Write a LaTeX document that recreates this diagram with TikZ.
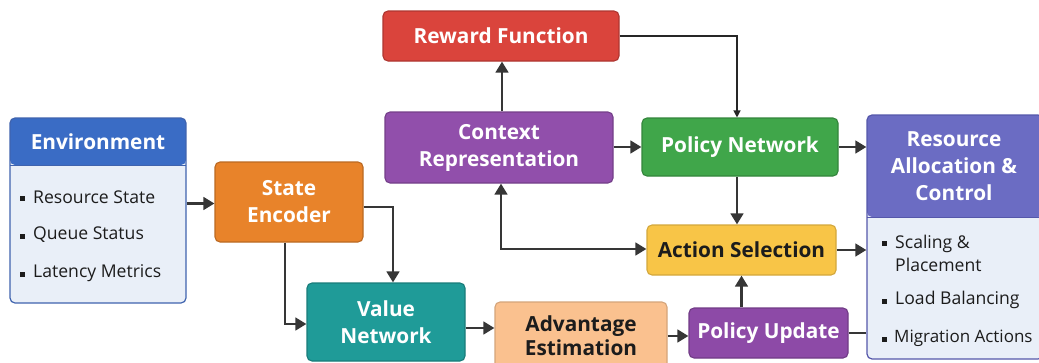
\documentclass[tikz,border=0pt]{standalone}
\usepackage{fontspec}
\setmainfont{Open Sans}
\usetikzlibrary{arrows.meta}

\definecolor{envHead}{HTML}{3A6CC5}
\definecolor{envEdge}{HTML}{3F63AE}
\definecolor{panelFill}{HTML}{E9EFF8}
\definecolor{encOrange}{HTML}{E8832A}
\definecolor{valTeal}{HTML}{1F9B98}
\definecolor{advPeach}{HTML}{FAC18F}
\definecolor{updPurple}{HTML}{8D4AA7}
\definecolor{actYellow}{HTML}{F8C547}
\definecolor{polGreen}{HTML}{40A64A}
\definecolor{ctxPurple}{HTML}{914FAB}
\definecolor{rewRed}{HTML}{DA443C}
\definecolor{resHead}{HTML}{6B6CC3}
\definecolor{resEdge}{HTML}{5557AA}
\definecolor{wire}{HTML}{363636}
\definecolor{ink}{HTML}{1C1C1C}

\newcommand{\titlesize}{\fontsize{20.8}{27}\selectfont\bfseries}
\newcommand{\itemsize}{\fontsize{17.6}{23}\selectfont}

\begin{document}
\begin{tikzpicture}[x=1pt, y=-1pt,
  blockbox/.style={rounded corners=5pt, line width=1.1pt, inner sep=0pt,
    align=center, font=\titlesize, text=white},
  panelbox/.style n args={3}{rounded corners=5pt, line width=1.2pt, draw=#2,
    fill=panelFill, inner sep=0pt,
    path picture={
      \fill[#1] (path picture bounding box.north west) rectangle
        ([yshift=-#3]path picture bounding box.north east);
      \draw[#2, line width=0.8pt] ([yshift=-#3]path picture bounding box.north west) --
        ([yshift=-#3]path picture bounding box.north east);
    }},
  headtext/.style={font=\titlesize, text=white, align=center, inner sep=0pt},
  itemtext/.style={font=\itemsize, text=ink, anchor=west, inner sep=0pt, align=left},
  bulletmark/.style={fill=ink},
  arr/.style={draw=wire, line width=2.8pt, -{Triangle[length=11pt,width=12.5pt]}},
  arrboth/.style={draw=wire, line width=2.8pt,
    {Triangle[length=11pt,width=12.5pt]}-{Triangle[length=11pt,width=12.5pt]}},
  plainwire/.style={draw=wire, line width=2.8pt},
  thinarr/.style={draw=black!85, line width=1.2pt, -{Triangle[length=7pt,width=7pt]}}
]
\useasboundingbox (0,0) rectangle (1039,362);

% ---- Environment panel ----
\node[panelbox={envHead}{envEdge}{47pt}, minimum width=176pt, minimum height=185pt]
  (env) at (98,210.5) {};
\node[headtext] (envtitle) at (98,142) {Environment};
\node[itemtext] (envA) at (33,197) {Resource State};
\node[itemtext] (envB) at (33,235) {Queue Status};
\node[itemtext] (envC) at (33,273) {Latency Metrics};
\foreach \yy in {198,236,274}
  \fill[bulletmark] (19.5,\yy-2.5) rectangle (24.5,\yy+2.5);

% ---- Resource panel ----
\node[panelbox={resHead}{resEdge}{102pt}, minimum width=176pt, minimum height=244pt]
  (res) at (955,237) {};
\node[headtext] (restitle) at (954,166) {Resource\\Allocation \&\\Control};
\node[itemtext] (resA) at (895,253.5) {Scaling \&\\Placement};
\node[itemtext] (resB) at (895,300) {Load Balancing};
\node[itemtext, font=\fontsize{17}{23}\selectfont] (resC) at (894,338) {Migration Actions};
\foreach \yy in {243,301,339}
  \fill[bulletmark] (881.5,\yy-2.5) rectangle (886.5,\yy+2.5);

% ---- Processing blocks ----
\node[blockbox, fill=encOrange, draw=encOrange!80!black,
  minimum width=148pt, minimum height=80pt] (enc) at (289,202) {State\\Encoder};
\node[blockbox, fill=valTeal, draw=valTeal!80!black,
  minimum width=158pt, minimum height=78pt] (val) at (386,322) {Value\\Network};
\node[blockbox, fill=advPeach, draw=advPeach!85!black, text=ink,
  minimum width=172pt, minimum height=68pt, font=\fontsize{20.8}{24}\selectfont\bfseries]
  (adv) at (581,336) {Advantage\\Estimation};
\node[blockbox, fill=updPurple, draw=updPurple!80!black,
  minimum width=159pt, minimum height=50pt] (upd) at (768.5,333) {Policy Update};
\node[blockbox, fill=actYellow, draw=actYellow!85!black, text=ink,
  minimum width=189pt, minimum height=50pt] (act) at (741.5,250) {Action Selection};
\node[blockbox, fill=polGreen, draw=polGreen!80!black,
  minimum width=196pt, minimum height=58pt] (pol) at (740,147) {Policy Network};
\node[blockbox, fill=ctxPurple, draw=ctxPurple!80!black,
  minimum width=228pt, minimum height=71pt] (ctx) at (499,147.5) {Context\\Representation};
\node[blockbox, fill=rewRed, draw=rewRed!80!black,
  minimum width=236pt, minimum height=50pt] (rew) at (501,36) {Reward Function};

% ---- Connectors ----
\coordinate (encTurn) at (393,207);
\coordinate (envOut) at (186,203.5);
\draw[arr] (envOut -| env.east) -- (envOut -| enc.west);
\draw[arr] (enc.east |- encTurn) -- (encTurn) -- (encTurn |- val.north);
\draw[arr] ([xshift=-4pt]enc.south) |- ([yshift=-2pt]val.west);
\draw[arr] ([yshift=-6pt]val.east) -- ([yshift=-6pt]val.east -| adv.west);
\draw[arr] (adv.east) -- (adv.east -| upd.west);
\draw[plainwire] (upd.east) -- (upd.east -| res.west);
\draw[arr] (act.south |- upd.north) -- (act.south);
\draw[arr] (act.east) -- (act.east -| res.west);
\draw[arr] ([xshift=-3pt]pol.south) -- ([xshift=-3pt]pol.south |- act.north);
\draw[arr] (pol.east) -- (pol.east -| res.west);
\draw[arr] (pol.west -| ctx.east) -- (pol.west);
\draw[arr] ([xshift=3pt]ctx.north) -- ([xshift=3pt]ctx.north |- rew.south);
\draw[arrboth] ([xshift=2pt]ctx.south) |- ([yshift=1pt]act.west);
\draw[thinarr] (rew.east) -| ([xshift=-3pt]pol.north);
\end{tikzpicture}
\end{document}
